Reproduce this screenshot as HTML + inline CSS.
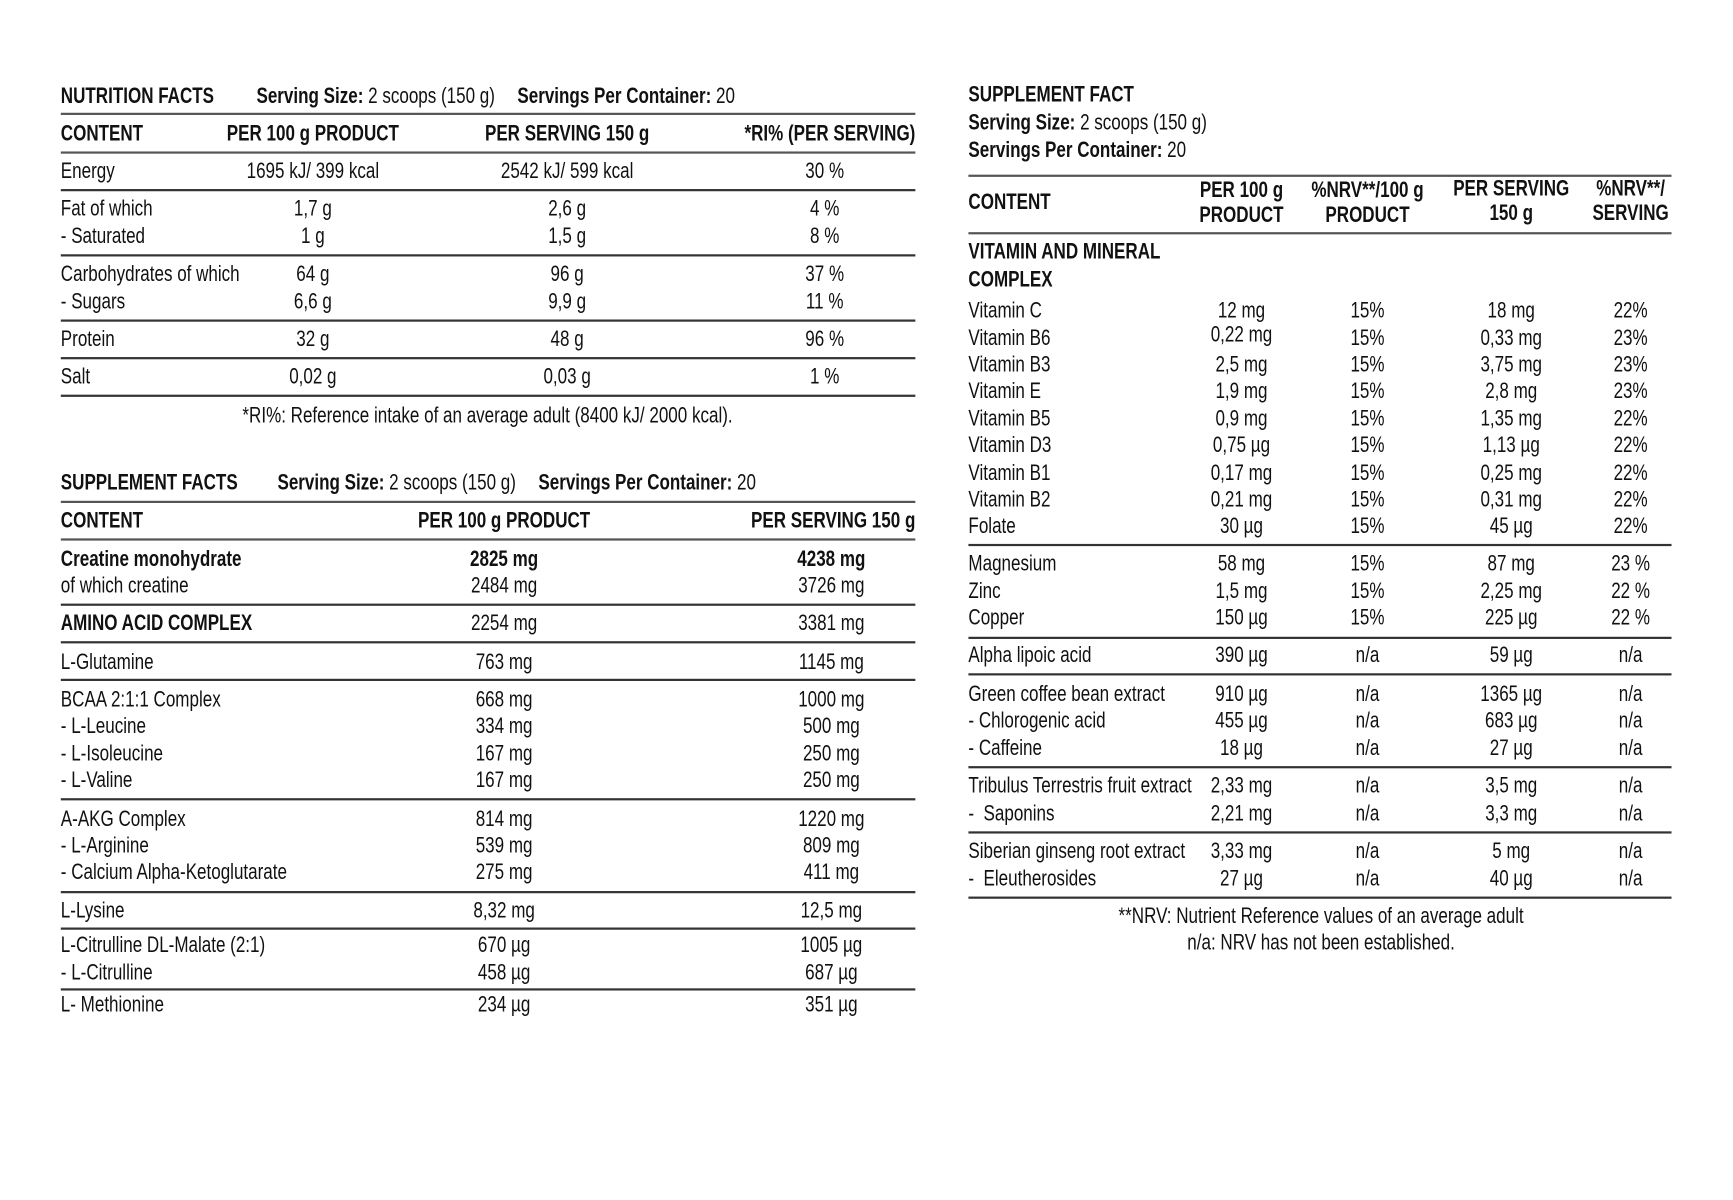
<!DOCTYPE html>
<html><head><meta charset="utf-8"><style>
html,body{margin:0;padding:0;background:#fff;width:1733px;height:1200px;overflow:hidden}
#w{position:absolute;left:0;top:0;width:1560px;height:1080px;transform:scale(1.1055);transform-origin:0 0;font-family:"Liberation Sans Narrow","Liberation Sans",sans-serif;font-size:20px;color:#111}
#w div{position:absolute;white-space:nowrap;line-height:1}
.l{transform:translateY(-50%) scaleX(.77);transform-origin:0 50%}
.c{transform:translate(-50%,-50%) scaleX(.77);transform-origin:50% 50%}
.r{transform:translate(-100%,-50%) scaleX(.77);transform-origin:100% 50%}
b{font-weight:bold}
.h{font-weight:bold}
.ln{height:1.5px;background:#333}
.lk{height:2px;background:#555}
</style></head><body><div id="w">
<div class="l h" style="left:55px;top:87px">NUTRITION FACTS</div>
<div class="l" style="left:232px;top:87px"><b>Serving Size:</b> 2 scoops (150 g)</div>
<div class="l" style="left:468px;top:87px"><b>Servings Per Container:</b> 20</div>
<div class="lk" style="left:55px;top:102px;width:773px"></div>
<div class="l h" style="left:55px;top:121px">CONTENT</div>
<div class="c h" style="left:283px;top:121px">PER 100 g PRODUCT</div>
<div class="c h" style="left:513px;top:121px">PER SERVING 150 g</div>
<div class="r h" style="left:828px;top:121px">*RI% (PER SERVING)</div>
<div class="lk" style="left:55px;top:137px;width:773px"></div>
<div class="l" style="left:55px;top:155px">Energy</div><div class="c" style="left:283px;top:155px">1695 kJ/ 399 kcal</div><div class="c" style="left:513px;top:155px">2542 kJ/ 599 kcal</div><div class="c" style="left:746px;top:155px">30 %</div>
<div class="ln" style="left:55px;top:171px;width:773px"></div>
<div class="l" style="left:55px;top:189px">Fat of which</div><div class="c" style="left:283px;top:189px">1,7 g</div><div class="c" style="left:513px;top:189px">2,6 g</div><div class="c" style="left:746px;top:189px">4 %</div>
<div class="l" style="left:55px;top:214px">- Saturated</div><div class="c" style="left:283px;top:214px">1 g</div><div class="c" style="left:513px;top:214px">1,5 g</div><div class="c" style="left:746px;top:214px">8 %</div>
<div class="ln" style="left:55px;top:230px;width:773px"></div>
<div class="l" style="left:55px;top:248px">Carbohydrates of which</div><div class="c" style="left:283px;top:248px">64 g</div><div class="c" style="left:513px;top:248px">96 g</div><div class="c" style="left:746px;top:248px">37 %</div>
<div class="l" style="left:55px;top:273px">- Sugars</div><div class="c" style="left:283px;top:273px">6,6 g</div><div class="c" style="left:513px;top:273px">9,9 g</div><div class="c" style="left:746px;top:273px">11 %</div>
<div class="ln" style="left:55px;top:289px;width:773px"></div>
<div class="l" style="left:55px;top:307px">Protein</div><div class="c" style="left:283px;top:307px">32 g</div><div class="c" style="left:513px;top:307px">48 g</div><div class="c" style="left:746px;top:307px">96 %</div>
<div class="ln" style="left:55px;top:323px;width:773px"></div>
<div class="l" style="left:55px;top:341px">Salt</div><div class="c" style="left:283px;top:341px">0,02 g</div><div class="c" style="left:513px;top:341px">0,03 g</div><div class="c" style="left:746px;top:341px">1 %</div>
<div class="ln" style="left:55px;top:357px;width:773px"></div>
<div class="c" style="left:441px;top:376px">*RI%: Reference intake of an average adult (8400 kJ/ 2000 kcal).</div>

<div class="l h" style="left:55px;top:437px">SUPPLEMENT FACTS</div>
<div class="l" style="left:251px;top:437px"><b>Serving Size:</b> 2 scoops (150 g)</div>
<div class="l" style="left:487px;top:437px"><b>Servings Per Container:</b> 20</div>
<div class="lk" style="left:55px;top:453px;width:773px"></div>
<div class="l h" style="left:55px;top:471px">CONTENT</div>
<div class="c h" style="left:456px;top:471px">PER 100 g PRODUCT</div>
<div class="r h" style="left:828px;top:471px">PER SERVING 150 g</div>
<div class="lk" style="left:55px;top:487px;width:773px"></div>
<div class="l h" style="left:55px;top:506px">Creatine monohydrate</div><div class="c h" style="left:456px;top:506px">2825 mg</div><div class="c h" style="left:752px;top:506px">4238 mg</div>
<div class="l" style="left:55px;top:530px">of which creatine</div><div class="c" style="left:456px;top:530px">2484 mg</div><div class="c" style="left:752px;top:530px">3726 mg</div>
<div class="ln" style="left:55px;top:546px;width:773px"></div>
<div class="l h" style="left:55px;top:564px">AMINO ACID COMPLEX</div><div class="c" style="left:456px;top:564px">2254 mg</div><div class="c" style="left:752px;top:564px">3381 mg</div>
<div class="ln" style="left:55px;top:580px;width:773px"></div>
<div class="l" style="left:55px;top:599px">L-Glutamine</div><div class="c" style="left:456px;top:599px">763 mg</div><div class="c" style="left:752px;top:599px">1145 mg</div>
<div class="ln" style="left:55px;top:614px;width:773px"></div>
<div class="l" style="left:55px;top:633px">BCAA 2:1:1 Complex</div><div class="c" style="left:456px;top:633px">668 mg</div><div class="c" style="left:752px;top:633px">1000 mg</div>
<div class="l" style="left:55px;top:657px">- L-Leucine</div><div class="c" style="left:456px;top:657px">334 mg</div><div class="c" style="left:752px;top:657px">500 mg</div>
<div class="l" style="left:55px;top:682px">- L-Isoleucine</div><div class="c" style="left:456px;top:682px">167 mg</div><div class="c" style="left:752px;top:682px">250 mg</div>
<div class="l" style="left:55px;top:706px">- L-Valine</div><div class="c" style="left:456px;top:706px">167 mg</div><div class="c" style="left:752px;top:706px">250 mg</div>
<div class="ln" style="left:55px;top:722px;width:773px"></div>
<div class="l" style="left:55px;top:741px">A-AKG Complex</div><div class="c" style="left:456px;top:741px">814 mg</div><div class="c" style="left:752px;top:741px">1220 mg</div>
<div class="l" style="left:55px;top:765px">- L-Arginine</div><div class="c" style="left:456px;top:765px">539 mg</div><div class="c" style="left:752px;top:765px">809 mg</div>
<div class="l" style="left:55px;top:789px">- Calcium Alpha-Ketoglutarate</div><div class="c" style="left:456px;top:789px">275 mg</div><div class="c" style="left:752px;top:789px">411 mg</div>
<div class="ln" style="left:55px;top:806px;width:773px"></div>
<div class="l" style="left:55px;top:824px">L-Lysine</div><div class="c" style="left:456px;top:824px">8,32 mg</div><div class="c" style="left:752px;top:824px">12,5 mg</div>
<div class="ln" style="left:55px;top:839px;width:773px"></div>
<div class="l" style="left:55px;top:855px">L-Citrulline DL-Malate (2:1)</div><div class="c" style="left:456px;top:855px">670 µg</div><div class="c" style="left:752px;top:855px">1005 µg</div>
<div class="l" style="left:55px;top:880px">- L-Citrulline</div><div class="c" style="left:456px;top:880px">458 µg</div><div class="c" style="left:752px;top:880px">687 µg</div>
<div class="ln" style="left:55px;top:894px;width:773px"></div>
<div class="l" style="left:55px;top:909px">L- Methionine</div><div class="c" style="left:456px;top:909px">234 µg</div><div class="c" style="left:752px;top:909px">351 µg</div>

<div class="l h" style="left:876px;top:86px">SUPPLEMENT FACT</div>
<div class="l" style="left:876px;top:111px"><b>Serving Size:</b> 2 scoops (150 g)</div>
<div class="l" style="left:876px;top:136px"><b>Servings Per Container:</b> 20</div>
<div class="lk" style="left:876px;top:158px;width:636px"></div>
<div class="l h" style="left:876px;top:183px">CONTENT</div>
<div class="c h" style="left:1123px;top:172px">PER 100 g</div><div class="c h" style="left:1123px;top:195px">PRODUCT</div>
<div class="c h" style="left:1237px;top:172px">%NRV**/100 g</div><div class="c h" style="left:1237px;top:195px">PRODUCT</div>
<div class="c h" style="left:1367px;top:171px">PER SERVING</div><div class="c h" style="left:1367px;top:193px">150 g</div>
<div class="c h" style="left:1475px;top:171px">%NRV**/</div><div class="c h" style="left:1475px;top:193px">SERVING</div>
<div class="lk" style="left:876px;top:210px;width:636px"></div>
<div class="l h" style="left:876px;top:228px">VITAMIN AND MINERAL</div>
<div class="l h" style="left:876px;top:253px">COMPLEX</div>

<div class="l" style="left:876px;top:281px">Vitamin C</div><div class="c" style="left:1123px;top:281px">12 mg</div><div class="c" style="left:1237px;top:281px">15%</div><div class="c" style="left:1367px;top:281px">18 mg</div><div class="c" style="left:1475px;top:281px">22%</div>
<div class="l" style="left:876px;top:306px">Vitamin B6</div><div class="c" style="left:1123px;top:303px">0,22 mg</div><div class="c" style="left:1237px;top:306px">15%</div><div class="c" style="left:1367px;top:306px">0,33 mg</div><div class="c" style="left:1475px;top:306px">23%</div>
<div class="l" style="left:876px;top:330px">Vitamin B3</div><div class="c" style="left:1123px;top:330px">2,5 mg</div><div class="c" style="left:1237px;top:330px">15%</div><div class="c" style="left:1367px;top:330px">3,75 mg</div><div class="c" style="left:1475px;top:330px">23%</div>
<div class="l" style="left:876px;top:354px">Vitamin E</div><div class="c" style="left:1123px;top:354px">1,9 mg</div><div class="c" style="left:1237px;top:354px">15%</div><div class="c" style="left:1367px;top:354px">2,8 mg</div><div class="c" style="left:1475px;top:354px">23%</div>
<div class="l" style="left:876px;top:379px">Vitamin B5</div><div class="c" style="left:1123px;top:379px">0,9 mg</div><div class="c" style="left:1237px;top:379px">15%</div><div class="c" style="left:1367px;top:379px">1,35 mg</div><div class="c" style="left:1475px;top:379px">22%</div>
<div class="l" style="left:876px;top:403px">Vitamin D3</div><div class="c" style="left:1123px;top:403px">0,75 µg</div><div class="c" style="left:1237px;top:403px">15%</div><div class="c" style="left:1367px;top:403px">1,13 µg</div><div class="c" style="left:1475px;top:403px">22%</div>
<div class="l" style="left:876px;top:428px">Vitamin B1</div><div class="c" style="left:1123px;top:428px">0,17 mg</div><div class="c" style="left:1237px;top:428px">15%</div><div class="c" style="left:1367px;top:428px">0,25 mg</div><div class="c" style="left:1475px;top:428px">22%</div>
<div class="l" style="left:876px;top:452px">Vitamin B2</div><div class="c" style="left:1123px;top:452px">0,21 mg</div><div class="c" style="left:1237px;top:452px">15%</div><div class="c" style="left:1367px;top:452px">0,31 mg</div><div class="c" style="left:1475px;top:452px">22%</div>
<div class="l" style="left:876px;top:476px">Folate</div><div class="c" style="left:1123px;top:476px">30 µg</div><div class="c" style="left:1237px;top:476px">15%</div><div class="c" style="left:1367px;top:476px">45 µg</div><div class="c" style="left:1475px;top:476px">22%</div>
<div class="ln" style="left:876px;top:492px;width:636px"></div>
<div class="l" style="left:876px;top:510px">Magnesium</div><div class="c" style="left:1123px;top:510px">58 mg</div><div class="c" style="left:1237px;top:510px">15%</div><div class="c" style="left:1367px;top:510px">87 mg</div><div class="c" style="left:1475px;top:510px">23 %</div>
<div class="l" style="left:876px;top:535px">Zinc</div><div class="c" style="left:1123px;top:535px">1,5 mg</div><div class="c" style="left:1237px;top:535px">15%</div><div class="c" style="left:1367px;top:535px">2,25 mg</div><div class="c" style="left:1475px;top:535px">22 %</div>
<div class="l" style="left:876px;top:559px">Copper</div><div class="c" style="left:1123px;top:559px">150 µg</div><div class="c" style="left:1237px;top:559px">15%</div><div class="c" style="left:1367px;top:559px">225 µg</div><div class="c" style="left:1475px;top:559px">22 %</div>
<div class="ln" style="left:876px;top:576px;width:636px"></div>
<div class="l" style="left:876px;top:593px">Alpha lipoic acid</div><div class="c" style="left:1123px;top:593px">390 µg</div><div class="c" style="left:1237px;top:593px">n/a</div><div class="c" style="left:1367px;top:593px">59 µg</div><div class="c" style="left:1475px;top:593px">n/a</div>
<div class="ln" style="left:876px;top:609px;width:636px"></div>
<div class="l" style="left:876px;top:628px">Green coffee bean extract</div><div class="c" style="left:1123px;top:628px">910 µg</div><div class="c" style="left:1237px;top:628px">n/a</div><div class="c" style="left:1367px;top:628px">1365 µg</div><div class="c" style="left:1475px;top:628px">n/a</div>
<div class="l" style="left:876px;top:652px">- Chlorogenic acid</div><div class="c" style="left:1123px;top:652px">455 µg</div><div class="c" style="left:1237px;top:652px">n/a</div><div class="c" style="left:1367px;top:652px">683 µg</div><div class="c" style="left:1475px;top:652px">n/a</div>
<div class="l" style="left:876px;top:677px">- Caffeine</div><div class="c" style="left:1123px;top:677px">18 µg</div><div class="c" style="left:1237px;top:677px">n/a</div><div class="c" style="left:1367px;top:677px">27 µg</div><div class="c" style="left:1475px;top:677px">n/a</div>
<div class="ln" style="left:876px;top:693px;width:636px"></div>
<div class="l" style="left:876px;top:711px">Tribulus Terrestris fruit extract</div><div class="c" style="left:1123px;top:711px">2,33 mg</div><div class="c" style="left:1237px;top:711px">n/a</div><div class="c" style="left:1367px;top:711px">3,5 mg</div><div class="c" style="left:1475px;top:711px">n/a</div>
<div class="l" style="left:876px;top:736px">-&nbsp; Saponins</div><div class="c" style="left:1123px;top:736px">2,21 mg</div><div class="c" style="left:1237px;top:736px">n/a</div><div class="c" style="left:1367px;top:736px">3,3 mg</div><div class="c" style="left:1475px;top:736px">n/a</div>
<div class="ln" style="left:876px;top:752px;width:636px"></div>
<div class="l" style="left:876px;top:770px">Siberian ginseng root extract</div><div class="c" style="left:1123px;top:770px">3,33 mg</div><div class="c" style="left:1237px;top:770px">n/a</div><div class="c" style="left:1367px;top:770px">5 mg</div><div class="c" style="left:1475px;top:770px">n/a</div>
<div class="l" style="left:876px;top:795px">-&nbsp; Eleutherosides</div><div class="c" style="left:1123px;top:795px">27 µg</div><div class="c" style="left:1237px;top:795px">n/a</div><div class="c" style="left:1367px;top:795px">40 µg</div><div class="c" style="left:1475px;top:795px">n/a</div>
<div class="ln" style="left:876px;top:811px;width:636px"></div>
<div class="c" style="left:1195px;top:829px">**NRV: Nutrient Reference values of an average adult</div>
<div class="c" style="left:1195px;top:853px">n/a: NRV has not been established.</div>
</div></body></html>
